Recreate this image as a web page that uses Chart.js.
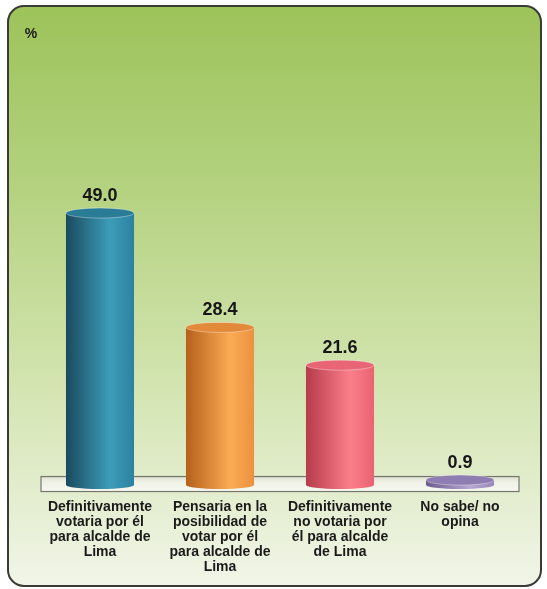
<!DOCTYPE html>
<html>
<head>
<meta charset="utf-8">
<script src="https://cdn.jsdelivr.net/npm/chart.js@4.4.0/dist/chart.umd.min.js"></script>
<style>
  html, body { margin: 0; padding: 0; background: #ffffff; }
  #wrap { width: 547px; height: 589px; }
</style>
</head>
<body>
<div id="wrap"><canvas id="myChart" width="547" height="589"></canvas></div>
<script>
const categories = [
  ['Definitivamente', 'votaria por él', 'para alcalde de', 'Lima'],
  ['Pensaria en la', 'posibilidad de', 'votar por él', 'para alcalde de', 'Lima'],
  ['Definitivamente', 'no votaria por', 'él para alcalde', 'de Lima'],
  ['No sabe/ no', 'opina']
];
const values = [49.0, 28.4, 21.6, 0.9];
const unitLabel = '%';

// dark edge, highlight, right edge
const barShades = [
  ['#1a4a5f', '#3d9db9', '#2b82a0'],
  ['#b5601c', '#fbab54', '#ec9140'],
  ['#b63b4b', '#fb7f8b', '#ea6372'],
  ['#6b5b8c', '#b6a8d2', '#9787b9']
];
const capColors = ['#2a7c96', '#e3893a', '#e86575', '#8d7db0'];

const BAR_PCT = 0.567;
const CAP_RY = 5;

function barGradient(ctx, x, w, i) {
  const g = ctx.createLinearGradient(x - w / 2, 0, x + w / 2, 0);
  g.addColorStop(0, barShades[i][0]);
  g.addColorStop(0.65, barShades[i][1]);
  g.addColorStop(1, barShades[i][2]);
  return g;
}

const cylinderPlugin = {
  id: 'cylinder',
  beforeDraw(chart) {
    const ctx = chart.ctx;
    const x0 = 8, y0 = 6, w = 533, h = 580, r = 16;
    ctx.save();
    const bg = ctx.createLinearGradient(0, y0, 0, y0 + h);
    bg.addColorStop(0, '#9dc35a');
    bg.addColorStop(0.3, '#b3d17e');
    bg.addColorStop(0.65, '#d3e4b0');
    bg.addColorStop(1, '#f1f5e8');
    ctx.beginPath();
    ctx.roundRect(x0, y0, w, h, r);
    ctx.fillStyle = bg;
    ctx.fill();
    ctx.lineWidth = 2;
    ctx.strokeStyle = '#3a3a36';
    ctx.stroke();

    ctx.fillStyle = '#1a1a1a';
    ctx.font = 'bold 14px "Liberation Sans", Arial, sans-serif';
    ctx.textAlign = 'center';
    ctx.textBaseline = 'middle';
    ctx.fillText(unitLabel, 31, 34);
    ctx.restore();
  },
  beforeDatasetsDraw(chart) {
    const ctx = chart.ctx;
    const ca = chart.chartArea;
    const base = chart.scales.y.getPixelForValue(0);
    ctx.save();
    const top = base - 8.5, bottom = base + 6.5;
    const fg = ctx.createLinearGradient(0, top, 0, bottom);
    fg.addColorStop(0, '#d9ddcc');
    fg.addColorStop(0.3, '#eef0e4');
    fg.addColorStop(1, '#f7f8f1');
    ctx.fillStyle = fg;
    ctx.fillRect(ca.left + 1, top, ca.right - ca.left - 2, bottom - top);
    ctx.lineWidth = 1.2;
    ctx.strokeStyle = '#75776c';
    ctx.strokeRect(ca.left + 1, top, ca.right - ca.left - 2, bottom - top);
    ctx.restore();
  },
  afterDatasetsDraw(chart) {
    const ctx = chart.ctx;
    const meta = chart.getDatasetMeta(0);
    ctx.save();
    meta.data.forEach((bar, i) => {
      const p = bar.getProps(['x', 'y', 'base', 'width'], true);
      const rx = p.width / 2;
      // rounded bottom
      ctx.beginPath();
      ctx.ellipse(p.x, p.base, rx, 4, 0, 0, Math.PI);
      ctx.fillStyle = barGradient(ctx, p.x, p.width, i);
      ctx.fill();
      // top cap
      ctx.beginPath();
      ctx.ellipse(p.x, p.y, rx, CAP_RY, 0, 0, Math.PI * 2);
      ctx.fillStyle = capColors[i];
      ctx.fill();
      ctx.lineWidth = 1;
      ctx.strokeStyle = 'rgba(255,255,255,0.35)';
      ctx.stroke();
      // value label
      ctx.fillStyle = '#161616';
      ctx.font = 'bold 18px "Liberation Sans", Arial, sans-serif';
      ctx.textAlign = 'center';
      ctx.textBaseline = 'middle';
      ctx.fillText(values[i].toFixed(1), p.x, p.y - 17.5);
    });
    ctx.restore();
  }
};

const data = {
  labels: categories,
  datasets: [{
    data: values,
    backgroundColor: (c) => {
      const chart = c.chart;
      if (!chart.chartArea || c.dataIndex === undefined) return barShades[0][1];
      const xs = chart.scales.x;
      const x = xs.getPixelForValue(c.dataIndex);
      const w = xs.width / categories.length * BAR_PCT;
      return barGradient(chart.ctx, x, w, c.dataIndex);
    },
    borderWidth: 0,
    barPercentage: BAR_PCT,
    categoryPercentage: 1
  }]
};

const config = {
  type: 'bar',
  data: data,
  options: {
    responsive: false,
    animation: false,
    layout: {
      padding: { left: 40, right: 27, top: 152, bottom: 0 }
    },
    plugins: {
      legend: { display: false },
      tooltip: { enabled: false }
    },
    scales: {
      x: {
        grid: { display: false, drawTicks: false, tickLength: 0 },
        border: { display: false },
        ticks: {
          color: '#1a1a1a',
          padding: 14.5,
          maxRotation: 0,
          autoSkip: false,
          font: { family: '"Liberation Sans", Arial, sans-serif', size: 14, weight: 'bold', lineHeight: 1.071 }
        }
      },
      y: {
        display: false,
        min: 0,
        max: 60
      }
    }
  },
  plugins: [cylinderPlugin]
};

const myChart = new Chart(
  document.getElementById('myChart'),
  config
);
</script>
</body>
</html>
